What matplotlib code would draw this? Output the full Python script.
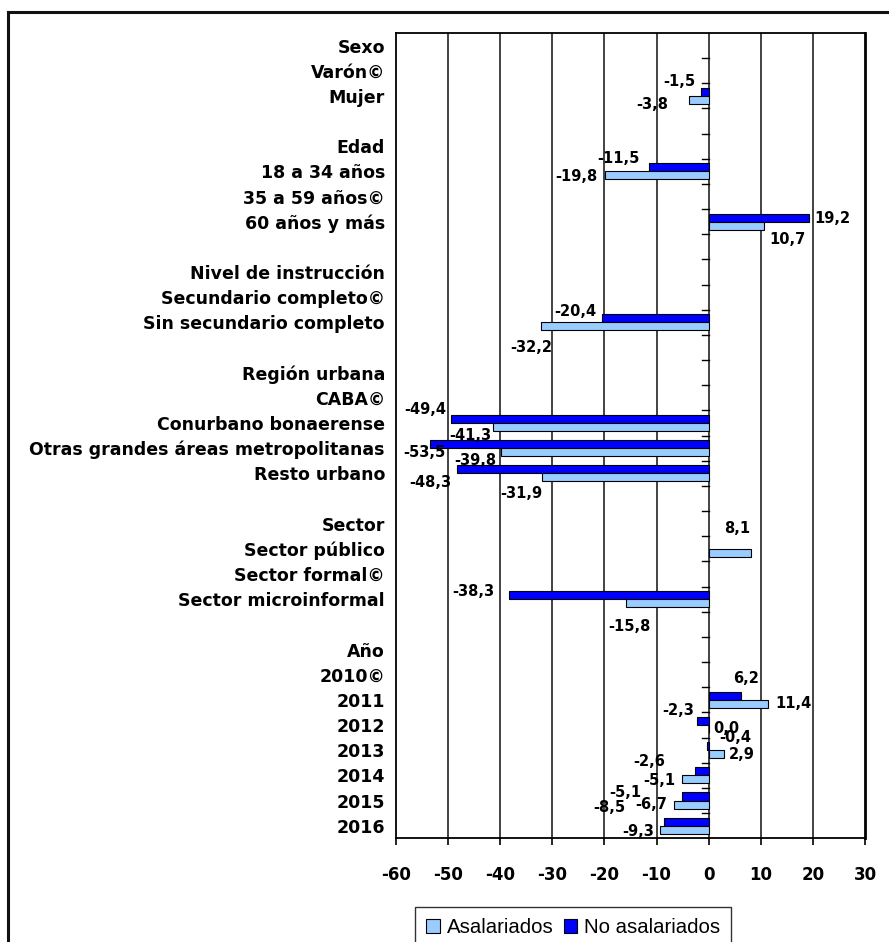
import matplotlib
matplotlib.use("Agg")
import matplotlib.pyplot as plt
from matplotlib.lines import Line2D
from matplotlib.patches import Patch

plt.rcParams['font.family'] = ['DejaVu Sans']

# Row labels, top to bottom (blank strings are spacer rows)
categories = [
    "Sexo", "Varón©", "Mujer", "",
    "Edad", "18 a 34 años", "35 a 59 años©", "60 años y más", "",
    "Nivel de instrucción", "Secundario completo©", "Sin secundario completo", "",
    "Región urbana", "CABA©", "Conurbano bonaerense",
    "Otras grandes áreas metropolitanas", "Resto urbano", "",
    "Sector", "Sector público", "Sector formal©", "Sector microinformal", "",
    "Año", "2010©", "2011", "2012", "2013", "2014", "2015", "2016",
]

asalariados = [
    None, None, -3.8, None,
    None, -19.8, None, 10.7, None,
    None, None, -32.2, None,
    None, None, -41.3, -39.8, -31.9, None,
    None, 8.1, None, -15.8, None,
    None, None, 11.4, 0.0, 2.9, -5.1, -6.7, -9.3,
]

no_asalariados = [
    None, None, -1.5, None,
    None, -11.5, None, 19.2, None,
    None, None, -20.4, None,
    None, None, -49.4, -53.5, -48.3, None,
    None, None, None, -38.3, None,
    None, None, 6.2, -2.3, -0.4, -2.6, -5.1, -8.5,
]

x_ticks = [-60, -50, -40, -30, -20, -10, 0, 10, 20, 30]

# Label placement relative to bar end, in pixels (dx right, dy down)
label_offsets_no = {
    2: (-22, -10), 5: (-30, -9), 7: (24, 1), 11: (-27, -7),
    15: (-26, -10), 16: (-5, 8), 17: (-27, 13), 22: (-36, -4),
    26: (5, -17), 27: (-18, -11), 28: (29, -9), 29: (-46, -10),
    30: (-57, -4), 31: (-55, -14),
}
label_offsets_asal = {
    2: (-37, 5), 5: (-29, 1), 7: (23, 14), 11: (-10, 21),
    15: (-23, 8), 16: (-26, 8), 17: (-21, 16), 20: (-14, -24),
    22: (3, 23), 26: (25, 0), 27: (18, -1), 28: (18, 0),
    29: (-23, 1), 30: (-23, 0), 31: (-22, 2),
}

COL_ASAL = "#99CCFF"
COL_NO = "#0000FF"

fig = plt.figure(figsize=(8.89, 9.42), dpi=100)
ax = fig.add_axes([396 / 889, 1 - 838.3 / 942, (865 - 396) / 889, (838.3 - 33) / 942])

n = len(categories)
rows = list(range(n))
bh = 0.32

no_rows = [i for i in rows if no_asalariados[i] is not None]
as_rows = [i for i in rows if asalariados[i] is not None]

ax.barh([i - bh / 2 for i in no_rows], [no_asalariados[i] for i in no_rows],
        height=bh, color=COL_NO, edgecolor="black", linewidth=0.8, zorder=3)
ax.barh([i + bh / 2 for i in as_rows], [asalariados[i] for i in as_rows],
        height=bh, color=COL_ASAL, edgecolor="black", linewidth=0.8, zorder=3)


def fmt(v):
    return f"{v:.1f}".replace(".", ",")


for i in no_rows:
    v = no_asalariados[i]
    dx, dy = label_offsets_no[i]
    ax.annotate(fmt(v), (v, i - bh / 2), xytext=(dx, -dy), textcoords="offset pixels",
                ha="center", va="center", fontsize=10.5, fontweight="bold", zorder=5)
for i in as_rows:
    v = asalariados[i]
    dx, dy = label_offsets_asal[i]
    ax.annotate(fmt(v), (v, i + bh / 2), xytext=(dx, -dy), textcoords="offset pixels",
                ha="center", va="center", fontsize=10.5, fontweight="bold", zorder=5)

ax.set_xlim(-60, 30)
ax.set_ylim(n - 0.5, -0.5)

# vertical grid at each tick, y axis at zero
for t in x_ticks[1:-1]:
    ax.axvline(t, color="#222222", linewidth=1.2, zorder=1)

# small ticks on the zero axis between rows
for b in range(1, n):
    ax.plot([-1.25, 0], [b - 0.5, b - 0.5], color="black", linewidth=1.0, zorder=2)

ax.set_xticks(x_ticks)
ax.set_xticklabels([str(t) for t in x_ticks], fontsize=12, fontweight="bold")
ax.tick_params(axis="x", length=5, width=1.2, pad=15, direction="out")

ax.set_yticks(rows)
ax.set_yticklabels(categories, fontsize=12.5, fontweight="bold")
ax.tick_params(axis="y", length=0, pad=8)

for side in ["top", "bottom", "left", "right"]:
    ax.spines[side].set_color("black")
    ax.spines[side].set_linewidth(1.3)
ax.spines["right"].set_linewidth(2.0)

# outer frame of the figure
fig.add_artist(Line2D([8 / 889, 1.0], [1 - 12 / 942, 1 - 12 / 942],
                      transform=fig.transFigure, color="#111111", linewidth=2.2))
fig.add_artist(Line2D([8 / 889, 8 / 889], [0.0, 1 - 12 / 942],
                      transform=fig.transFigure, color="#111111", linewidth=2.2))

handles = [Patch(facecolor=COL_ASAL, edgecolor="black", linewidth=0.8),
           Patch(facecolor=COL_NO, edgecolor="black", linewidth=0.8)]
leg = fig.legend(handles, ["Asalariados", "No asalariados"], ncol=2,
                 loc="upper left", bbox_to_anchor=(415 / 889, 1 - 907 / 942),
                 prop={"family": "Liberation Sans", "size": 14.7},
                 frameon=True, fancybox=False, borderpad=0.55,
                 handlelength=0.65, handleheight=0.65, handletextpad=0.35,
                 columnspacing=0.5, borderaxespad=0)
leg.get_frame().set_edgecolor("black")
leg.get_frame().set_linewidth(1.0)

fig.savefig("out.png", dpi=100)
